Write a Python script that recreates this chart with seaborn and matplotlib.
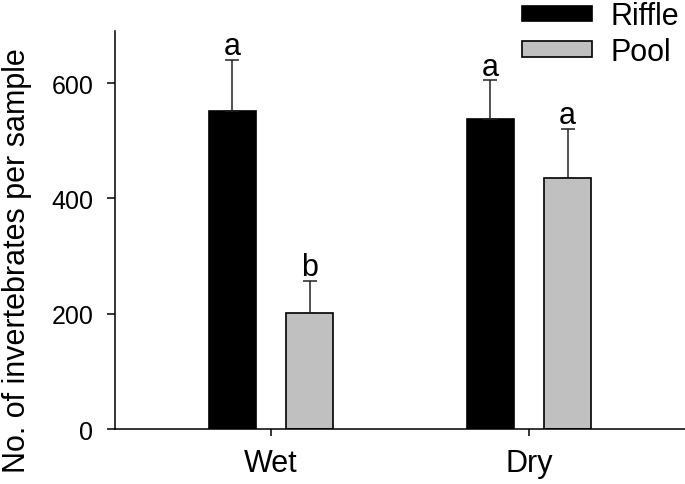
import matplotlib
matplotlib.use("Agg")
import matplotlib.pyplot as plt
import pandas as pd
import seaborn as sns

seasons = ["Wet", "Dry", "Wet", "Dry"]
habitats = ["Riffle", "Riffle", "Pool", "Pool"]
counts = [551, 538, 202, 436]
errors = [90, 67, 55, 85]
letters = ["a", "a", "b", "a"]

df = pd.DataFrame({"season": seasons, "habitat": habitats, "count": counts,
                   "err": errors, "letter": letters})

sns.set_theme(style="ticks")
plt.rcParams["font.family"] = ["Liberation Sans", "DejaVu Sans"]
plt.rcParams["text.color"] = "black"
plt.rcParams["axes.labelcolor"] = "black"
plt.rcParams["xtick.color"] = "black"
plt.rcParams["ytick.color"] = "black"

fig = plt.figure(figsize=(6.85, 4.85), dpi=100)
ax = fig.add_axes([0.1686, 0.1134, 0.8314, 0.82])

sns.barplot(data=df, x="season", y="count", hue="habitat",
            order=["Wet", "Dry"], hue_order=["Riffle", "Pool"],
            palette=["black", "#c0c0c0"], width=0.6, gap=0.39,
            edgecolor="black", linewidth=1.2, errorbar=None, ax=ax)

# upper error bars and letters on top of each bar
for cont, hab in zip(ax.containers, ["Riffle", "Pool"]):
    sub = df[df["habitat"] == hab].set_index("season").loc[["Wet", "Dry"]]
    for bar, (_, row) in zip(cont, sub.iterrows()):
        xc = bar.get_x() + bar.get_width() / 2
        ax.errorbar(xc, row["count"], yerr=[[0], [row["err"]]], fmt="none",
                    ecolor="#222222", elinewidth=1.1, capsize=4.7, capthick=1.1)
        ax.text(xc, row["count"] + row["err"] + 10, row["letter"],
                ha="center", va="baseline", fontsize=22)

ax.set_ylim(0, 690)
ax.set_xlim(-0.603, 1.605)
ax.set_yticks([0, 200, 400, 600])
ax.set_xlabel("")
ax.set_ylabel("No. of invertebrates per sample", fontsize=22)
ax.yaxis.set_label_coords(-0.146, 0.425)

ax.tick_params(axis="y", labelsize=18, length=6, width=1.1, pad=10)
ax.tick_params(axis="x", labelsize=22, length=5, width=1.1, pad=9)
for s in ["left", "bottom"]:
    ax.spines[s].set_linewidth(1.1)
    ax.spines[s].set_color("black")
sns.despine(ax=ax)

sns.move_legend(ax, "upper left", bbox_to_anchor=(522 / 685, 0.995),
                bbox_transform=fig.transFigure, frameon=False, title=None,
                fontsize=22, borderpad=0, borderaxespad=0,
                handlelength=2.3, handleheight=0.4, handletextpad=0.6,
                labelspacing=0.18)

fig.savefig("out.png", dpi=100)
